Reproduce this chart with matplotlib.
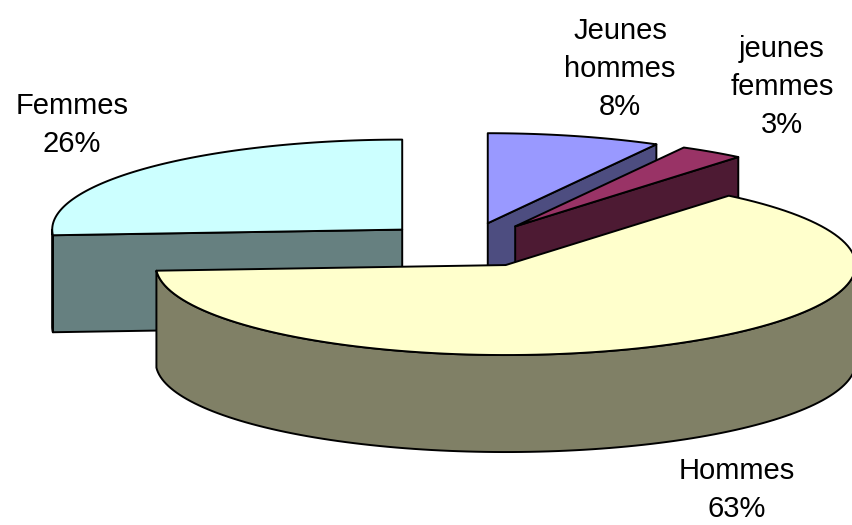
import numpy as np
import matplotlib.pyplot as plt
from matplotlib.patches import Polygon

# slice data (clockwise from 12 o'clock)
labels = ['Jeunes\nhommes', 'jeunes\nfemmes', 'Hommes', 'Femmes']
values = [8, 3, 63, 26]
top_colors = ['#9999ff', '#993366', '#ffffcc', '#ccffff']
side_colors = ['#4d4d80', '#4d1a33', '#808066', '#668080']
label_pos = [(620, 69), (782, 87), (737, 490), (72, 125)]

# layout of the 3d pie, in pixels
cx, cy = 466, 245
rx, ry = 350, 90
depth = 97
explode = 0.25


def pt(vx, vy, phi):
    r = np.radians(phi)
    return vx + rx * np.sin(r), vy - ry * np.cos(r)


def arc(vx, vy, a, b, dy=0):
    phis = np.linspace(a, b, 120)
    xs, ys = pt(vx, vy, phis)
    return np.column_stack([xs, ys + dy])


fig = plt.figure(figsize=(8.53, 5.25), dpi=100)
ax = fig.add_axes([0, 0, 1, 1])
ax.set_xlim(0, 853)
ax.set_ylim(525, 0)
ax.axis('off')

total = sum(values)
bounds = np.cumsum([0] + values) / total * 360
slices = []
for i, v in enumerate(values):
    a, b = bounds[i], bounds[i + 1]
    mid = np.radians((a + b) / 2)
    vx = cx + explode * rx * np.sin(mid)
    vy = cy - explode * ry * np.cos(mid)
    slices.append((vy, i, a, b, vx))

kw = dict(edgecolor='black', linewidth=1.4, joinstyle='round')
for vy, i, a, b, vx in sorted(slices):
    side = side_colors[i]
    # radial walls facing the viewer
    for ang, vis in ((a, np.sin(np.radians(a)) < -1e-9), (b, np.sin(np.radians(b)) > 1e-9)):
        if vis:
            px, py = pt(vx, vy, ang)
            quad = [(vx, vy), (px, py), (px, py + depth), (vx, vy + depth)]
            ax.add_patch(Polygon(quad, closed=True, facecolor=side, **kw))
    # outer curved wall, front half only
    lo, hi = max(a, 90), min(b, 270)
    if hi > lo:
        wall = np.vstack([arc(vx, vy, lo, hi), arc(vx, vy, lo, hi, depth)[::-1]])
        ax.add_patch(Polygon(wall, closed=True, facecolor=side, **kw))
    # top face
    top = np.vstack([[vx, vy], arc(vx, vy, a, b)])
    ax.add_patch(Polygon(top, closed=True, facecolor=top_colors[i], **kw))

plt.rcParams['font.family'] = ['Liberation Sans', 'DejaVu Sans']
for i, (x, y) in enumerate(label_pos):
    ax.text(x, y, f"{labels[i]}\n{values[i]}%", ha='center', va='center',
            multialignment='center', fontsize=21, linespacing=1.45)

fig.savefig('out.png', dpi=100)
